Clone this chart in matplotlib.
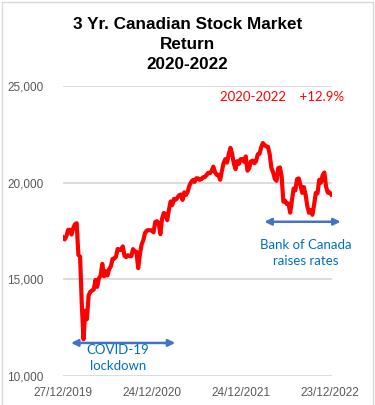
import matplotlib
matplotlib.use('Agg')
import matplotlib.pyplot as plt
from matplotlib.patches import Rectangle

# weekly closes of the S&P/TSX composite, 27/12/2019 .. 30/12/2022
tsx_2019 = [17168]
tsx_2020 = [17066, 17234, 17559, 17565, 17318, 17655, 17848, 17900, 16263,
            16175, 13716, 11900, 13371, 12936, 14166, 14359, 14420, 14474,
            14966, 14607, 15052, 15193, 15800, 15156, 15419, 15199, 15528,
            15667, 16058, 16075, 16169, 16573, 16536, 16525, 16706, 16218,
            16151, 16248, 16199, 16199, 16563, 16459, 16421, 15580, 16282,
            16802, 17019, 17397, 17521, 17549, 17536, 17536]
tsx_2021 = [17433, 17967, 18006, 17912, 17337, 18137, 18431, 18385, 18060,
            18597, 19028, 18849, 19165, 19120, 19228, 19351, 19389, 19108,
            19500, 19366, 19533, 19852, 20029, 20138, 20038, 20226, 20226,
            20147, 20187, 20280, 20288, 20395, 20515, 20486, 20604, 20828,
            20541, 20404, 20402, 20150, 20606, 21009, 21216, 21037, 21464,
            21800, 21497, 20998, 20700, 21110, 20972, 21214]
tsx_2022 = [21223, 21083, 21357, 20621, 20742, 21096, 21140, 21007, 21106,
            21465, 21483, 21818, 22050, 21947, 21874, 21857, 21470, 20762,
            20534, 20196, 20098, 20748, 20789, 20324, 19016, 19063, 18900,
            18922, 18450, 19090, 19693, 19602, 20183, 20220, 19886, 19475,
            19772, 19385, 18794, 18444, 18583, 18340, 18860, 19471, 19452,
            20148, 20003, 20384, 20526, 19790, 19490, 19506, 19385]
values = tsx_2019 + tsx_2020 + tsx_2021 + tsx_2022
date_labels = ['27/12/2019', '24/12/2020', '24/12/2021', '23/12/2022']
date_pos = [0, 52, 104, 156]
y_ticks = [10000, 15000, 20000, 25000]

fig = plt.figure(figsize=(3.75, 4.05), dpi=100)
fig.patches.append(Rectangle((0.004, -0.01), 0.991, 1.006, transform=fig.transFigure,
                             fill=False, edgecolor='#d9d9d9', linewidth=1))
ax = fig.add_axes([0.168, 0.0716, 0.717, 0.716])

ax.plot(range(len(values)), values, color='#ff0000', lw=3, solid_joinstyle='round')

ax.set_ylim(10000, 25000)
ax.set_xlim(0, 157.4)
ax.set_yticks(y_ticks)
ax.set_yticklabels([format(v, ',') for v in y_ticks])
ax.set_xticks(date_pos)
ax.set_xticklabels(date_labels)
ax.tick_params(length=0, colors='#595959', labelsize=8.5)
ax.tick_params(axis='y', pad=14)
ax.tick_params(axis='x', pad=8)
for lbl in ax.get_xticklabels() + ax.get_yticklabels():
    lbl.set_fontfamily('Liberation Sans')
ax.grid(axis='y', color='#d9d9d9', lw=1.3)
ax.set_axisbelow(True)
for s in ax.spines.values():
    s.set_visible(False)

fig.text(0.5, 0.890, '3 Yr. Canadian Stock Market\nReturn\n2020-2022', ha='center', va='center',
         fontsize=12.3, fontweight='bold', family='Liberation Sans', linespacing=1.38)

ax.text(92, 24450, '2020-2022    +12.9%', color='#ff0000', fontsize=9.5,
        family='Lato', ha='left', va='center')

blue = '#4472c4'
ax.annotate('', xy=(4.7, 11710), xytext=(65.7, 11710),
            arrowprops=dict(arrowstyle='<|-|>', color=blue, lw=1.8,
                            mutation_scale=10, shrinkA=0, shrinkB=0))
ax.annotate('', xy=(117.9, 17979), xytext=(162.5, 17979), annotation_clip=False,
            arrowprops=dict(arrowstyle='<|-|>', color=blue, lw=1.8,
                            mutation_scale=10, shrinkA=0, shrinkB=0))
ax.text(32.3, 10933, 'COVID-19\nlockdown', color='#0070c0', fontsize=9.5,
        family='Lato', ha='center', va='center', linespacing=1.35)
ax.text(142, 16373, 'Bank of Canada\nraises rates', color='#0070c0', fontsize=9.5,
        family='Lato', ha='center', va='center', linespacing=1.35, clip_on=False)

fig.savefig('out.png', dpi=100)
